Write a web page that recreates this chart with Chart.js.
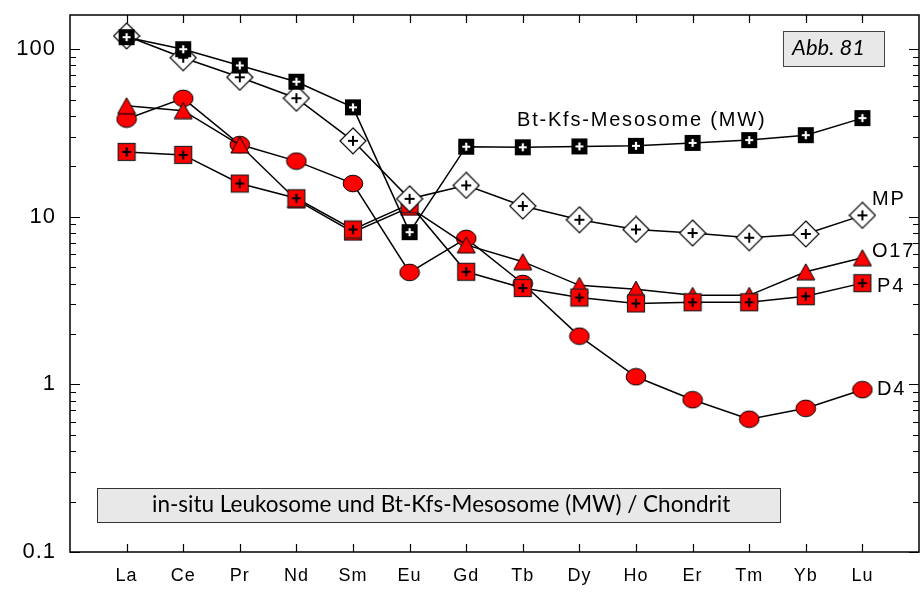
<!DOCTYPE html>
<html>
<head>
<meta charset="utf-8">
<script src="https://cdn.jsdelivr.net/npm/chart.js@4"></script>
<style>
  html, body { margin: 0; padding: 0; background: #fff; }
  canvas { display: block; }
</style>
</head>
<body>
<canvas id="ree" width="921" height="596"></canvas>
<script>
// Rare earth elements, chondrite-normalised
const elements = ['La', 'Ce', 'Pr', 'Nd', 'Sm', 'Eu', 'Gd', 'Tb', 'Dy', 'Ho', 'Er', 'Tm', 'Yb', 'Lu'];

const mesosomeMW = [118, 100, 80, 64, 45, 8.1, 26.2, 26.0, 26.3, 26.5, 27.6, 28.7, 30.7, 38.8];
const mp         = [120, 89, 68, 51, 28.4, 12.8, 15.4, 11.6, 9.6, 8.4, 8.0, 7.5, 7.9, 10.2];
const p4         = [24.4, 23.4, 15.8, 12.9, 8.4, 11.9, 4.7, 3.76, 3.3, 3.04, 3.09, 3.09, 3.36, 4.02];
const o17        = [46, 43, 26.8, 12.6, 8.1, 11.4, 6.8, 5.4, 3.9, 3.7, 3.4, 3.4, 4.7, 5.7];
const d4         = [38.3, 50.9, 27.0, 21.5, 15.8, 4.66, 7.43, 4.0, 1.94, 1.11, 0.81, 0.62, 0.72, 0.93];

const yMajorValues = [0.1, 1, 10, 100];
const yMajorLabels = ['0.1', '1', '10', '100'];
const yMinorSteps  = [2, 3, 4, 5, 6, 7, 8, 9];

const seriesNames = ['Bt-Kfs-Mesosome (MW)', 'MP', 'P4', 'O17', 'D4'];
const boxTitle = 'in-situ Leukosome und Bt-Kfs-Mesosome (MW) / Chondrit';
const figTag = 'Abb. 81';

// ---- marker sprites ----
function sprite(w, h, paint) {
  const c = document.createElement('canvas');
  c.width = w; c.height = h;
  paint(c.getContext('2d'), w, h);
  return c;
}
function plus(ctx, cx, cy, r, color, lw) {
  ctx.strokeStyle = color; ctx.lineWidth = lw; ctx.lineCap = 'butt';
  ctx.beginPath();
  ctx.moveTo(cx - r, cy); ctx.lineTo(cx + r, cy);
  ctx.moveTo(cx, cy - r); ctx.lineTo(cx, cy + r);
  ctx.stroke();
}
const blackSquare = sprite(18, 18, (ctx) => {
  ctx.fillStyle = '#000';
  ctx.fillRect(1, 1, 16, 16);
  plus(ctx, 9, 9, 4, '#fff', 2.2);
});
const whiteDiamond = sprite(28, 28, (ctx) => {
  ctx.beginPath();
  ctx.moveTo(14, 1); ctx.lineTo(27, 14); ctx.lineTo(14, 27); ctx.lineTo(1, 14); ctx.closePath();
  ctx.fillStyle = '#fff'; ctx.fill();
  ctx.strokeStyle = '#000'; ctx.lineWidth = 1.2; ctx.stroke();
  plus(ctx, 14, 14, 5, '#000', 2);
});
const redSquare = sprite(20, 20, (ctx) => {
  ctx.fillStyle = '#ff0000';
  ctx.fillRect(1, 1, 18, 18);
  ctx.strokeStyle = '#222'; ctx.lineWidth = 1.2;
  ctx.strokeRect(1.5, 1.5, 17, 17);
  plus(ctx, 10, 10, 4.5, '#000', 2.2);
});
const redTriangle = sprite(20, 18, (ctx) => {
  ctx.beginPath();
  ctx.moveTo(10, 1); ctx.lineTo(19, 17); ctx.lineTo(1, 17); ctx.closePath();
  ctx.fillStyle = '#ff0000'; ctx.fill();
  ctx.strokeStyle = '#000'; ctx.lineWidth = 1; ctx.stroke();
});
const redCircle = sprite(22, 19, (ctx) => {
  ctx.beginPath();
  ctx.ellipse(11, 9.5, 9.8, 8.3, 0, 0, Math.PI * 2);
  ctx.fillStyle = '#ff0000'; ctx.fill();
  ctx.strokeStyle = '#000'; ctx.lineWidth = 1; ctx.stroke();
});

function series(label, values, marker) {
  return {
    label,
    data: values.map((v, i) => ({ x: i, y: v })),
    borderColor: '#000',
    borderWidth: 1.5,
    tension: 0,
    pointStyle: marker,
    pointRadius: 9,
    pointHoverRadius: 9,
    fill: false
  };
}

// scales keep no extra label padding, so the plot frame sits where the layout puts it
function noPadding(s) {
  s.paddingTop = 0; s.paddingBottom = 0; s.paddingLeft = 0; s.paddingRight = 0;
}

// ---- frame, inward ticks, text boxes and series labels ----
const decorations = {
  id: 'decorations',
  beforeDraw(chart) {
    chart.ctx.letterSpacing = '1px';
  },
  beforeDatasetsDraw(chart) {
    chart.ctx.letterSpacing = '3px';
  },
  afterDraw(chart) {
    const { ctx, chartArea: a, scales: { x, y } } = chart;
    ctx.save();
    ctx.letterSpacing = '0px';
    ctx.strokeStyle = '#000';

    // frame
    ctx.lineWidth = 1.5;
    ctx.strokeRect(a.left, a.top, a.right - a.left, a.bottom - a.top);

    // y ticks, both sides, pointing inward
    ctx.lineWidth = 1.2;
    ctx.beginPath();
    y.ticks.forEach(t => {
      const py = Math.round(y.getPixelForValue(t.value)) + 0.5;
      const len = yMajorValues.includes(t.value) ? 10 : 6;
      ctx.moveTo(a.left, py); ctx.lineTo(a.left + len, py);
      ctx.moveTo(a.right, py); ctx.lineTo(a.right - len, py);
    });
    // x ticks, top and bottom, pointing inward
    x.ticks.forEach(t => {
      const px = Math.round(x.getPixelForValue(t.value)) + 0.5;
      ctx.moveTo(px, a.bottom); ctx.lineTo(px, a.bottom - 8);
      ctx.moveTo(px, a.top); ctx.lineTo(px, a.top + 8);
    });
    ctx.stroke();

    // figure tag box
    ctx.fillStyle = '#e8e8e8';
    ctx.fillRect(783.5, 31.5, 101, 35);
    ctx.strokeStyle = '#444'; ctx.lineWidth = 1;
    ctx.strokeRect(783.5, 31.5, 101, 35);
    ctx.fillStyle = '#000';
    ctx.font = 'italic 22px Lato';
    ctx.textAlign = 'left'; ctx.textBaseline = 'alphabetic';
    ctx.fillText(figTag, 792, 55);

    // caption box
    ctx.fillStyle = '#e8e8e8';
    ctx.fillRect(97.5, 488.5, 683, 34);
    ctx.strokeStyle = '#333';
    ctx.strokeRect(97.5, 488.5, 683, 34);
    ctx.fillStyle = '#000';
    ctx.font = '22.5px Lato';
    ctx.fillText(boxTitle, 152, 512);

    // series labels
    ctx.font = '20px "Liberation Sans"';
    ctx.letterSpacing = '1.8px';
    ctx.textBaseline = 'middle';
    ctx.fillText(seriesNames[0], 517, 120);
    ctx.fillText(seriesNames[1], 872, 199);
    ctx.fillText(seriesNames[3], 872, 251);
    ctx.fillText(seriesNames[2], 877, 286);
    ctx.fillText(seriesNames[4], 877, 389);
    ctx.restore();
  }
};

new Chart(document.getElementById('ree'), {
  type: 'line',
  data: {
    datasets: [
      series(seriesNames[0], mesosomeMW, blackSquare),
      series(seriesNames[1], mp, whiteDiamond),
      series(seriesNames[2], p4, redSquare),
      series(seriesNames[3], o17, redTriangle),
      series(seriesNames[4], d4, redCircle)
    ]
  },
  options: {
    responsive: false,
    devicePixelRatio: 1,
    animation: false,
    events: [],
    layout: { autoPadding: false, padding: { top: 15, right: 2, left: 0, bottom: 0 } },
    plugins: { legend: { display: false }, tooltip: { enabled: false } },
    scales: {
      x: {
        type: 'linear',
        min: -1,
        max: 14,
        z: 1,
        grid: { display: false, drawTicks: false },
        border: { display: false },
        afterBuildTicks: (s) => { s.ticks = elements.map((_, i) => ({ value: i })); },
        afterFit: (s) => { s.height = 44; noPadding(s); },
        ticks: {
          autoSkip: false,
          maxRotation: 0,
          padding: 13,
          color: '#000',
          font: { family: '"Liberation Sans"', size: 18 },
          callback: (v) => elements[v] ?? ''
        }
      },
      y: {
        type: 'logarithmic',
        min: 0.1,
        max: 160,
        grid: { display: false, drawTicks: false },
        border: { display: false },
        afterBuildTicks: (s) => {
          const t = [];
          yMajorValues.forEach(d => {
            t.push({ value: d, major: true });
            if (d < 100) yMinorSteps.forEach(m => t.push({ value: +(m * d).toPrecision(3) }));
          });
          s.ticks = t;
        },
        afterFit: (s) => { s.width = 70; noPadding(s); },
        ticks: {
          autoSkip: false,
          padding: 14,
          color: '#000',
          font: { family: '"Liberation Sans"', size: 22 },
          callback: (v) => {
            const k = yMajorValues.indexOf(v);
            return k >= 0 ? yMajorLabels[k] : '';
          }
        }
      }
    }
  },
  plugins: [decorations]
});
</script>
</body>
</html>
